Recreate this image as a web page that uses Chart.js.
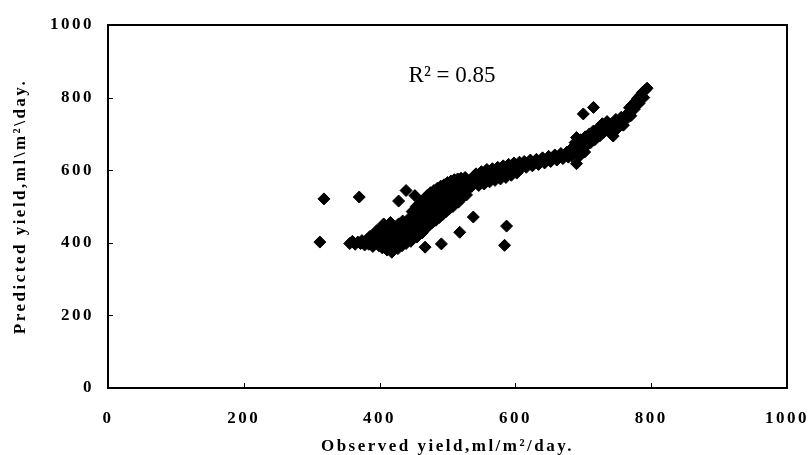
<!DOCTYPE html>
<html>
<head>
<meta charset="utf-8">
<script src="https://cdn.jsdelivr.net/npm/chart.js@4"></script>
<style>
html,body{margin:0;padding:0;background:#fff;}
#wrap{width:809px;height:455px;}
</style>
</head>
<body>
<div id="wrap"><canvas id="c" width="809" height="455"></canvas></div>
<script>
const xTickValues = [0, 200, 400, 600, 800, 1000];
const yTickValues = [0, 200, 400, 600, 800, 1000];
const xTitle = "Observed yield,ml/m²/day.";
const yTitle = "Predicted yield,ml\\m²\\day.";
const annotationText = "R² = 0.85";

const observed = [
 356,360,364,368,372,374,378,380,382,384,386,388,390,391,393,395,396,398,399,401,
 402,403,404,405,406,407,408,409,410,411,412,413,414,415,416,417,418,419,420,421,
 422,423,424,425,426,427,428,429,430,431,432,433,434,435,436,437,438,439,440,441,
 443,444,445,446,447,448,449,450,451,452,453,454,455,456,457,458,459,460,461,462,
 463,464,465,466,467,468,469,470,471,472,473,474,475,476,477,478,479,480,481,482,
 483,484,485,486,487,488,489,490,491,492,493,494,495,496,497,498,499,500,501,502,
 503,504,505,506,507,508,509,510,511,512,514,515,516,518,519,520,521,523,525,526,
 528,530,532,
 534,536,538,540,542,544,546,548,550,552,554,556,558,560,562,564,566,568,570,572,
 574,576,578,580,582,584,586,588,590,592,594,596,598,600,602,604,606,608,
 610,613,616,619,622,625,628,631,634,637,640,643,646,649,652,655,658,661,664,667,
 670,673,676,678,
 681,683,685,687,688,690,690,692,693,695,696,698,700,702,703,705,707,709,711,713,
 715,717,719,
 722,724,726,728,730,732,735,737,740,742,744,746,748,751,753,756,759,762,765,768,
 770,772,775,777,780,782,784,787,789,791,794,
 312,318,370,428,439,452,538,587,584,518,491,467,700,715
];
const predicted = [
 398,404,396,402,398,406,394,402,410,396,418,404,390,412,424,400,434,414,392,440,
 420,404,386,430,452,412,398,444,424,380,408,436,392,420,456,402,374,430,412,388,
 446,420,398,432,410,384,452,424,402,440,416,392,460,428,408,446,420,398,436,412,
 452,426,470,404,440,486,418,458,432,474,444,500,416,462,486,436,470,510,448,490,
 428,476,520,456,498,440,480,530,462,506,448,490,538,470,514,456,496,544,478,520,
 462,504,550,486,528,470,512,556,494,536,478,520,560,502,544,486,526,566,510,550,
 494,532,570,516,554,500,536,574,520,558,530,576,512,560,540,578,522,562,548,580,
 532,566,550,
 574,556,582,566,590,572,558,584,596,576,562,590,602,580,568,592,604,584,572,596,
 608,588,576,600,612,592,580,604,616,596,586,610,620,600,592,612,622,604,
 614,624,608,618,628,612,622,630,616,626,634,620,630,638,624,634,642,628,638,646,
 632,642,650,636,
 656,640,664,648,676,618,690,656,670,640,684,662,676,650,692,668,684,700,676,692,
 708,684,700,
 716,694,710,728,704,720,734,712,726,700,694,720,740,716,730,746,724,738,756,772,
 750,780,768,790,798,784,806,814,800,820,826,
 402,521,526,515,544,530,471,446,393,429,397,388,755,773
];

const points = observed.map((v, i) => ({x: v, y: predicted[i]}));

const spacing = {
  id: 'spacing',
  beforeDraw(chart) { chart.ctx.letterSpacing = '2.5px'; },
  beforeLayout(chart) { chart.ctx.letterSpacing = '2.5px'; }
};

const frame = {
  id: 'frame',
  afterDraw(chart) {
    const {ctx, chartArea: a, scales} = chart;
    ctx.save();
    ctx.letterSpacing = '0px';
    ctx.strokeStyle = '#000';
    ctx.lineWidth = 2;
    ctx.beginPath();
    ctx.moveTo(a.left, a.top);
    ctx.lineTo(a.right, a.top);
    ctx.lineTo(a.right, a.bottom);
    ctx.lineTo(a.left, a.bottom);
    ctx.closePath();
    ctx.stroke();
    ctx.lineWidth = 1;
    ctx.beginPath();
    xTickValues.forEach(v => {
      const px = Math.round(scales.x.getPixelForValue(v)) + 0.5;
      ctx.moveTo(px, a.bottom);
      ctx.lineTo(px, a.bottom - 5);
    });
    yTickValues.forEach(v => {
      const py = Math.round(scales.y.getPixelForValue(v)) + 0.5;
      ctx.moveTo(a.left, py);
      ctx.lineTo(a.left + 5, py);
    });
    ctx.stroke();
    ctx.fillStyle = '#000';
    ctx.font = '23px "Liberation Serif"';
    ctx.textAlign = 'center';
    ctx.textBaseline = 'middle';
    ctx.fillText(annotationText, scales.x.getPixelForValue(330) + 120, scales.y.getPixelForValue(860));
    ctx.restore();
  }
};

new Chart(document.getElementById('c'), {
  type: 'scatter',
  data: {
    datasets: [{
      data: points,
      pointStyle: 'rectRot',
      pointRadius: 6,
      pointHoverRadius: 6,
      backgroundColor: '#000',
      borderColor: '#000',
      borderWidth: 1
    }]
  },
  options: {
    responsive: false,
    animation: false,
    events: [],
    layout: {padding: {top: 25, right: 22, left: 0, bottom: 0}},
    plugins: {legend: {display: false}, tooltip: {enabled: false}},
    scales: {
      x: {
        type: 'linear', min: 0, max: 1000,
        afterBuildTicks: s => { s.ticks = xTickValues.map(v => ({value: v})); },
        afterFit: s => { s.height = 67; s.paddingLeft = 0; s.paddingRight = 0; },
        grid: {display: false, drawTicks: false},
        border: {display: false},
        ticks: {color: '#000', padding: 20, callback: v => String(v),
                font: {family: '"Liberation Serif"', weight: 'bold', size: 17}},
        title: {display: true, text: xTitle, color: '#000', padding: {top: 0, bottom: 0},
                font: {family: '"Liberation Serif"', weight: 'bold', size: 17, lineHeight: 1}}
      },
      y: {
        type: 'linear', min: 0, max: 1000,
        afterBuildTicks: s => { s.ticks = yTickValues.map(v => ({value: v})); },
        afterFit: s => { s.width = 108; s.paddingTop = 0; s.paddingBottom = 0; },
        grid: {display: false, drawTicks: false},
        border: {display: false},
        ticks: {color: '#000', padding: 14, callback: v => String(v),
                font: {family: '"Liberation Serif"', weight: 'bold', size: 17}},
        title: {display: true, text: yTitle, color: '#000', padding: {top: 12, bottom: 0},
                font: {family: '"Liberation Serif"', weight: 'bold', size: 17, lineHeight: 1}}
      }
    }
  },
  plugins: [spacing, frame]
});
</script>
</body>
</html>
